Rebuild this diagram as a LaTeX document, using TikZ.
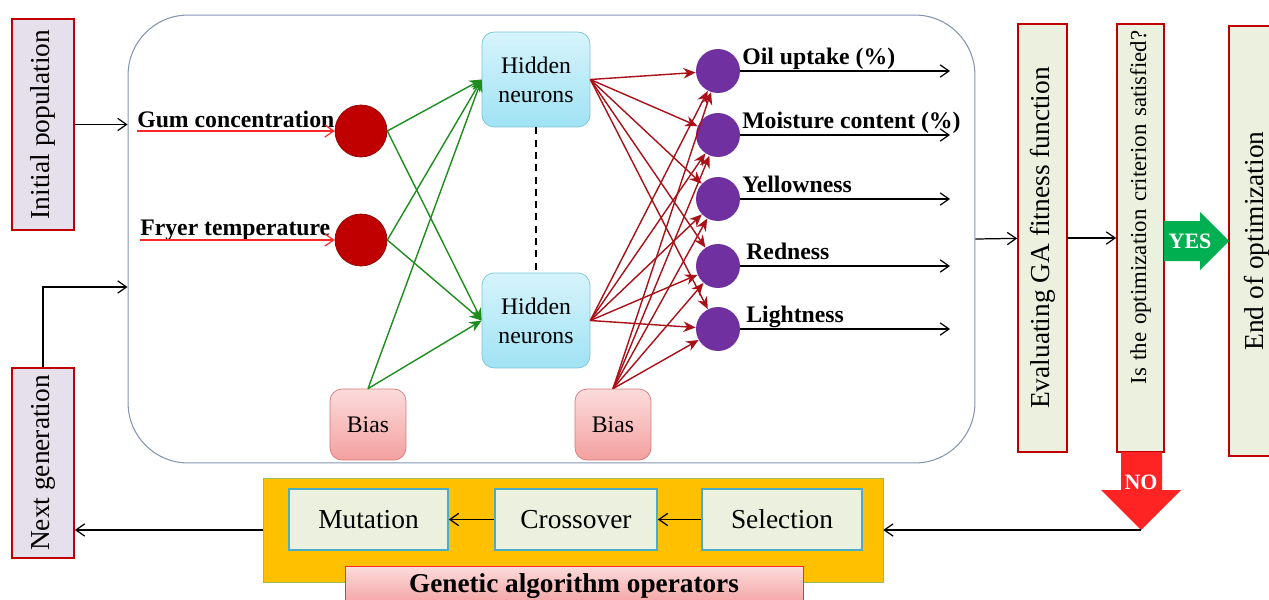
\documentclass[tikz,border=0pt]{standalone}
\usepackage{fontspec}
\setmainfont{Liberation Serif}
\usetikzlibrary{arrows.meta, positioning, calc}
\definecolor{red1}{RGB}{192,0,0}
\definecolor{red2}{RGB}{255,40,40}
\definecolor{red3}{RGB}{170,16,24}
\definecolor{green1}{RGB}{30,140,30}
\definecolor{green2}{RGB}{0,176,80}
\definecolor{lav1}{RGB}{230,224,236}
\definecolor{beige1}{RGB}{235,241,222}
\definecolor{cyan0}{RGB}{214,244,252}
\definecolor{cyan1}{RGB}{160,226,244}
\definecolor{cyan2}{RGB}{120,196,218}
\definecolor{pink0}{RGB}{252,220,220}
\definecolor{pink1}{RGB}{244,160,160}
\definecolor{pink2}{RGB}{214,120,120}
\definecolor{purple1}{RGB}{112,48,160}
\definecolor{slate1}{RGB}{132,150,176}
\definecolor{orange1}{RGB}{255,192,0}
\definecolor{olive1}{RGB}{155,187,89}
\definecolor{teal1}{RGB}{75,172,198}

\begin{document}
\begin{tikzpicture}[x=0.02cm, y=-0.02cm,
    every node/.style={anchor=center, inner sep=0pt, font=\rmfamily\fontsize{15.6}{18}\selectfont},
    myarrow/.style={-{Straight Barb[length=5pt, width=7pt]}, line width=0.7pt, black},
    inarrow/.style={myarrow, red2},
    greenarrow/.style={-{Stealth[length=7pt, width=6pt]}, line width=0.8pt, green1},
    redarrow/.style={-{Stealth[length=7pt, width=6pt]}, line width=0.8pt, red3},
    vbox/.style={rectangle, rotate=90, draw=red1, line width=1pt, fill=beige1},
    annbox/.style={rectangle, draw=slate1, line width=0.6pt, rounded corners=1.2cm},
    incircle/.style={circle, fill=red1, draw=red1!75!black, minimum size=1.04cm},
    outcircle/.style={circle, fill=purple1, minimum size=0.88cm},
    hidbox/.style={rectangle, rounded corners=0.24cm, draw=cyan2, top color=cyan0, bottom color=cyan1,
      minimum width=2.16cm, minimum height=1.9cm, align=center, font=\rmfamily\fontsize{13.5}{16.5}\selectfont},
    biasbox/.style={rectangle, rounded corners=0.24cm, draw=pink2, top color=pink0, bottom color=pink1,
      minimum width=1.52cm, minimum height=1.42cm, font=\rmfamily\fontsize{13.5}{16}\selectfont},
    inlabel/.style={anchor=base west, font=\bfseries\fontsize{13.5}{16}\selectfont},
    outlabel/.style={anchor=base west, font=\bfseries\fontsize{13.5}{16}\selectfont},
    opbox/.style={rectangle, draw=teal1, line width=1pt, fill=beige1, minimum height=1.22cm}
]
\useasboundingbox (0,0) rectangle (1269,599);

% GA boxes left
\node[vbox, fill=lav1, minimum width=4.22cm, minimum height=1.24cm] (init) at (43,124.5) {Initial population};
\node[vbox, fill=lav1, minimum width=3.8cm, minimum height=1.24cm] (nextgen) at (43,463) {Next generation};

% ANN
\node[annbox, minimum width=16.94cm, minimum height=8.96cm] (ann) at (551.5,239) {};

\node[incircle] (in1) at (361,131) {};
\node[incircle] (in2) at (361,240) {};
\node[inlabel] (lgum) at (137,127) {Gum concentration};
\node[inlabel] (lfry) at (140,235) {Fryer temperature};
\draw[inarrow] (lgum.west |- in1) -- (in1);
\draw[inarrow] (lfry.west |- in2) -- (in2);

\node[hidbox] (hid1) at (536,79.5) {Hidden\\neurons};
\node[hidbox] (hid2) at (536,320.5) {Hidden\\neurons};
\draw[dashed, line width=0.8pt, dash pattern=on 4pt off 3pt] (hid1.south) -- (hid2.north);

\node[biasbox] (bias1) at (368,424.5) {Bias};
\node[biasbox] (bias2) at (613,424.5) {Bias};

\foreach \s in {in1.east, in2.east, bias1.north} {
    \draw[greenarrow] (\s) -- (hid1.west);
    \draw[greenarrow] (\s) -- (hid2.west);
}

% outputs
\foreach \n/\y/\t/\dx in {1/71/Oil uptake (\%)/742, 2/135/Moisture content (\%)/742,
    3/199/Yellowness/742, 4/266/Redness/746, 5/329/Lightness/746} {
    \node[outcircle] (out\n) at (718,\y) {};
    \node[outlabel] (lab\n) at (\dx,\y-7) {\t};
    \coordinate (oend\n) at (950,\y);
    \draw[myarrow] (out\n.east) -- (oend\n);
}
\foreach \n in {1,...,5} {
    \draw[redarrow] (hid1.east) -- (out\n);
    \draw[redarrow] (hid2.east) -- (out\n);
    \draw[redarrow] (bias2.north) -- (out\n);
}

% right column
\node[vbox, minimum width=8.56cm, minimum height=0.98cm] (eval) at (1042.5,238) {Evaluating GA fitness function};
\node[vbox, minimum width=8.56cm, minimum height=0.94cm, text width=8.3cm, align=right,
  font=\rmfamily\fontsize{13}{16}\selectfont] (crit) at (1140.5,238) {Is the optimization criterion satisfied?};
\node[vbox, minimum width=8.6cm, minimum height=1.12cm] (endopt) at (1257,241) {End of optimization};

\draw[myarrow] (init) -- (init -| ann.west);
\coordinate (fb) at (45,287);
\draw[myarrow] (nextgen) |- (fb -| ann.west);
\draw[myarrow] (ann.east) -- (eval);
\draw[myarrow] (eval) -- (crit);

% YES / NO
\fill[green2] (1164,221) -- (1200,221) -- (1200,212) -- (1229,241) -- (1200,270) -- (1200,261) -- (1164,261) -- cycle;
\node[text=white, font=\bfseries\fontsize{12.5}{14}\selectfont] (yes) at (1190,241) {YES};
\coordinate (notip) at (1141,530);
\fill[red2!90!red] (1121,452) -- (1162,452) -- (1162,490) -- (1181,490) -- (notip) -- (1101,490) -- (1121,490) -- cycle;
\node[text=white, font=\bfseries\fontsize{12.5}{14}\selectfont] (no) at (1141,482) {NO};

% GA operators
\node[rectangle, draw=olive1, fill=orange1, minimum width=12.4cm, minimum height=2.08cm] (ops) at (573,530) {};
\node[opbox, minimum width=3.18cm] (mut) at (368.5,519.5) {Mutation};
\node[opbox, minimum width=3.24cm] (cross) at (576,519.5) {Crossover};
\node[opbox, minimum width=3.2cm] (sel) at (782,519.5) {Selection};
\draw[myarrow] (sel) -- (cross);
\draw[myarrow] (cross) -- (mut);
\node[rectangle, draw=red2, top color=pink0, bottom color=pink1, minimum width=9.16cm, minimum height=0.8cm,
  font=\bfseries\fontsize{15.5}{18}\selectfont] (gaop) at (574,586) {Genetic algorithm operators};

\draw[myarrow] (notip) -- (notip -| ops.east);
\draw[myarrow] (ops) -- (ops -| nextgen.south);

\end{tikzpicture}
\end{document}
